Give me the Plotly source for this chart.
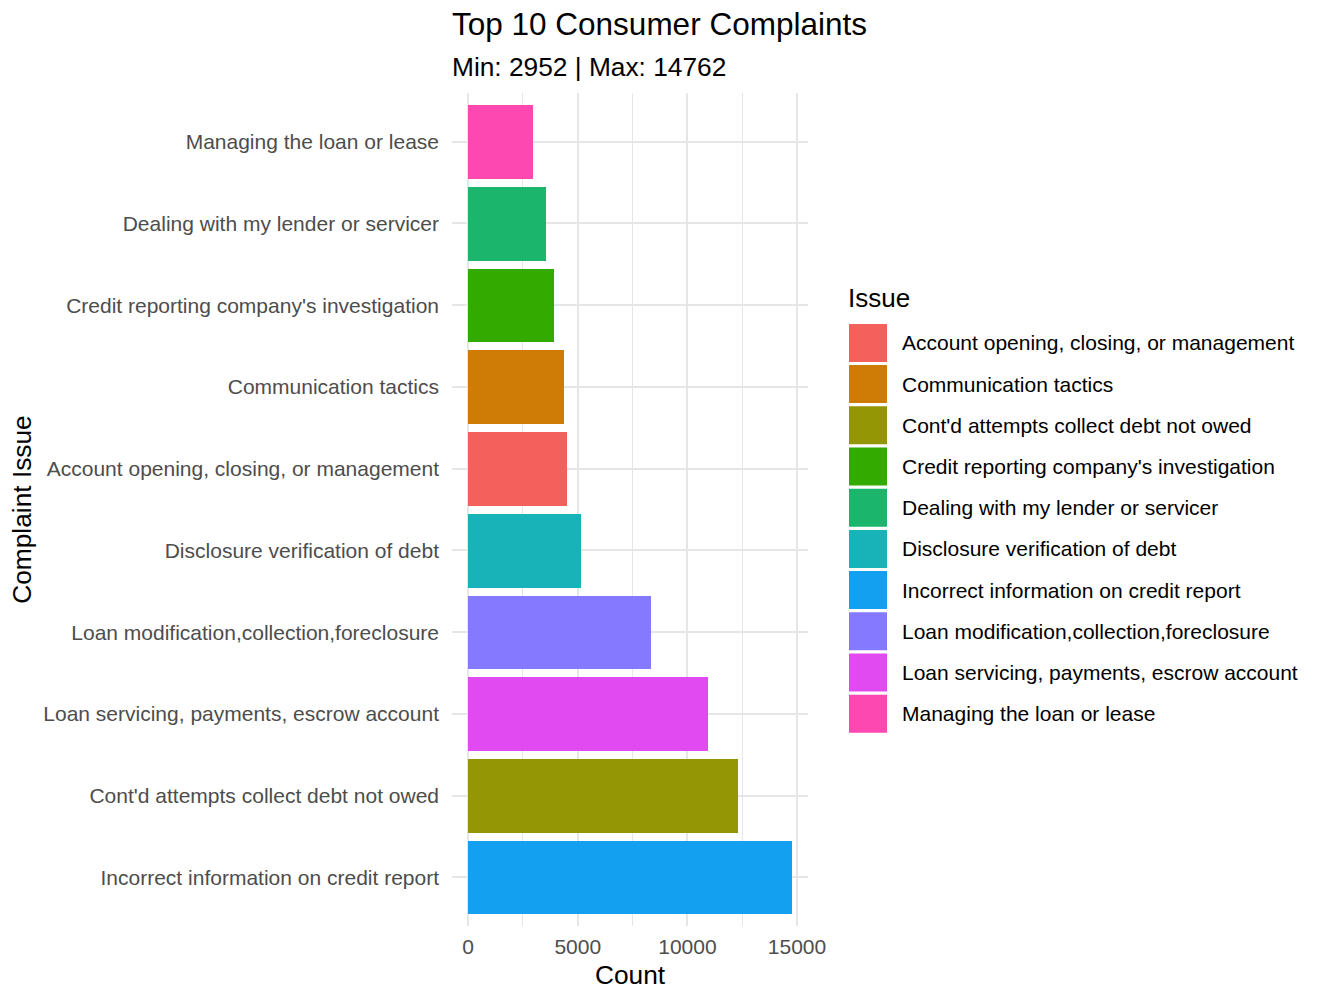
import plotly.graph_objects as go

# ---------------- data ----------------
issues = [
    "Account opening, closing, or management",
    "Communication tactics",
    "Cont'd attempts collect debt not owed",
    "Credit reporting company's investigation",
    "Dealing with my lender or servicer",
    "Disclosure verification of debt",
    "Incorrect information on credit report",
    "Loan modification,collection,foreclosure",
    "Loan servicing, payments, escrow account",
    "Managing the loan or lease",
]
counts = [4514, 4377, 12310, 3921, 3556, 5152, 14762, 8344, 10942, 2952]
colors = ["#F4605B", "#CF7C07", "#949606", "#33AA00", "#1BB56C",
          "#18B3B8", "#14A0F0", "#8479FF", "#E04AF0", "#FC48B0"]
x_ticks = [0, 5000, 10000, 15000]
x_minor = [2500, 7500, 12500]
title_text = "Top 10 Consumer Complaints"
subtitle_text = f"Min: {min(counts)} | Max: {max(counts)}"

# ---------------- layout geometry ----------------
W, H = 1324, 1002
FONT = "Liberation Sans, Arial, Helvetica, sans-serif"
GRID = "#E6E6E6"

def px_x(p):
    return p / W

def px_y(p):
    return 1 - p / H

# order: largest at bottom (plotly categorical: first = bottom)
order = sorted(range(len(issues)), key=lambda i: -counts[i])
cat_order = [issues[i] for i in order]

fig = go.Figure()

fig.add_trace(go.Bar(
    x=counts,
    y=issues,
    orientation="h",
    width=0.9,
    marker=dict(color=colors, line=dict(width=0)),
    showlegend=False,
    xaxis="x", yaxis="y",
    hovertemplate="%{y}: %{x}<extra></extra>",
))

# legend drawn as a small helper subplot
fig.add_trace(go.Scatter(
    x=[0] * len(issues),
    y=issues,
    mode="markers",
    marker=dict(symbol="square", size=38, color=colors, line=dict(width=0)),
    showlegend=False,
    xaxis="x2", yaxis="y2",
    hoverinfo="skip",
))

pad = 0.05 * max(counts)

annotations = [
    dict(text=title_text, x=px_x(450), y=px_y(24.2), xref="paper", yref="paper",
         xanchor="left", yanchor="middle", showarrow=False,
         font=dict(family=FONT, size=31.5, color="#000000")),
    dict(text=subtitle_text, x=px_x(450), y=px_y(66.6), xref="paper", yref="paper",
         xanchor="left", yanchor="middle", showarrow=False,
         font=dict(family=FONT, size=26.3, color="#000000")),
    dict(text="Issue", x=px_x(846), y=px_y(298.5), xref="paper", yref="paper",
         xanchor="left", yanchor="middle", showarrow=False,
         font=dict(family=FONT, size=26, color="#000000")),
]
for name in issues:
    annotations.append(dict(
        text=name, x=0, y=name, xref="x2", yref="y2",
        xanchor="left", yanchor="middle", xshift=32, showarrow=False,
        font=dict(family=FONT, size=21, color="#000000")))

fig.update_layout(
    width=W, height=H,
    margin=dict(l=0, r=0, t=0, b=0),
    paper_bgcolor="white", plot_bgcolor="white",
    template="none",
    font=dict(family=FONT, color="#000000"),
    barmode="overlay",
    bargap=0,
    annotations=annotations,
    xaxis=dict(
        domain=[px_x(452), px_x(808)],
        range=[-pad, max(counts) + pad],
        tickvals=x_ticks, ticktext=[str(v) for v in x_ticks],
        showgrid=True, gridcolor=GRID, gridwidth=2,
        minor=dict(tickvals=x_minor, showgrid=True,
                   gridcolor=GRID, gridwidth=1, ticks=""),
        zeroline=False, showline=False, ticks="",
        tickfont=dict(family=FONT, size=21, color="#4D4D4D"),
        ticklabelstandoff=6,
        title=dict(text="Count", font=dict(family=FONT, size=26.3, color="#000000"), standoff=8),
        automargin=False, fixedrange=True,
        anchor="y",
    ),
    yaxis=dict(
        domain=[px_y(926.4), px_y(92.7)],
        type="category", categoryorder="array", categoryarray=cat_order,
        range=[-0.6, len(issues) - 0.4],
        showgrid=True, gridcolor=GRID, gridwidth=2,
        zeroline=False, showline=False, ticks="",
        tickfont=dict(family=FONT, size=21, color="#4D4D4D"),
        ticklabelstandoff=12,
        title=dict(text="Complaint Issue", font=dict(family=FONT, size=26.3, color="#000000"), standoff=4),
        automargin=False, fixedrange=True,
        anchor="x",
    ),
    xaxis2=dict(
        domain=[px_x(848), px_x(888)], range=[-1, 1],
        visible=False, fixedrange=True, anchor="y2",
    ),
    yaxis2=dict(
        domain=[px_y(734.3), px_y(322.3)],
        type="category", categoryorder="array", categoryarray=issues,
        range=[len(issues) - 0.5, -0.5],
        visible=False, fixedrange=True, anchor="x2",
    ),
)

fig.write_html("out.html")
